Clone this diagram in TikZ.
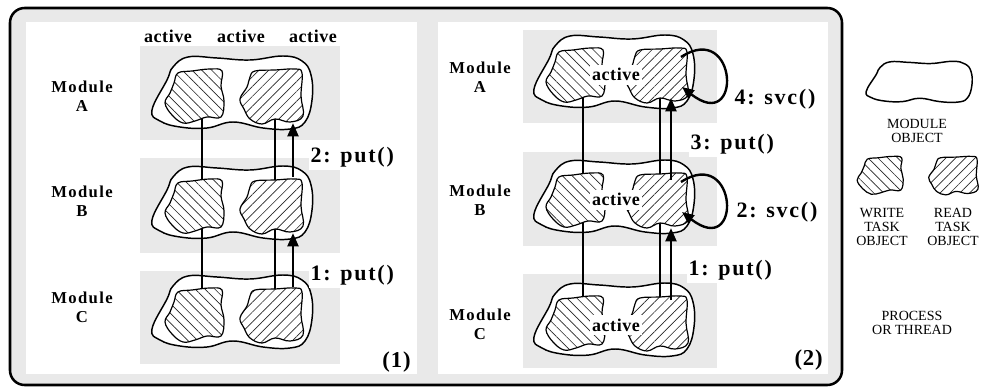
\documentclass[tikz,border=0pt]{standalone}
\usepackage{fontspec}
\setmainfont{Liberation Serif}
\usetikzlibrary{arrows.meta,patterns.meta,calc}

\definecolor{bandgray}{RGB}{233,233,233}

\tikzset{
  frame/.style={draw=black,line width=1.9pt,rounded corners=11pt,fill=bandgray},
  band/.style={fill=bandgray,draw=none},
  modline/.style={draw=black,line width=1.1pt,fill=white},
  wtask/.style={draw=black,line width=0.9pt,preaction={fill=white},
    pattern={Lines[angle=-45,distance=5.2pt,line width=0.5pt]},pattern color=black!85},
  rtask/.style={draw=black,line width=0.9pt,preaction={fill=white},
    pattern={Lines[angle=45,distance=5.2pt,line width=0.5pt]},pattern color=black!85},
  conn/.style={draw=black,line width=0.9pt},
  putarrow/.style={draw=black,line width=2.2pt,-{Triangle[length=10pt,width=8pt]}},
  svcarrow/.style={draw=black,line width=1.8pt,-{Triangle[length=9pt,width=7.5pt]}},
  calllbl/.style={font=\fontsize{16.5}{18}\selectfont\bfseries\addfontfeature{LetterSpace=8},
    fill=white,inner xsep=1pt,inner ysep=1.5pt},
  tag/.style={font=\fontsize{17}{18}\selectfont\bfseries\addfontfeature{LetterSpace=4},inner sep=0pt},
  actlbl/.style={font=\fontsize{13.5}{14}\selectfont\bfseries\addfontfeature{LetterSpace=3},inner sep=0pt},
  actbox/.style={actlbl,fill=white,inner xsep=1.5pt,inner ysep=3pt},
  modlbl/.style={font=\fontsize{12.5}{14}\selectfont\bfseries\addfontfeature{LetterSpace=8},
    align=center,inner sep=0pt},
  legend/.style={font=\fontsize{10.5}{10.5}\selectfont,align=center,inner sep=0pt},
  % module object: wavy outline
  modobj/.pic={
    \path[modline] plot[smooth cycle,tension=0.7] coordinates {
      (-59,-26) (-65,-13) (-80,17) (-72,28) (-52,34) (-25,35) (1,29) (31,35)
      (58,36) (73,29) (80,7) (79,-18) (70,-32) (51,-37) (18,-33) (-15,-35) (-44,-36)};
  },
  % write task object, anchored at its connector
  wtaskobj/.pic={
    \path[wtask] plot[smooth cycle,tension=0.65] coordinates {
      (-24,-24) (-10,-26) (8,-28) (20,-26) (19,-11) (22,4) (19,20) (5,20)
      (-7,24) (-19,26) (-30,18) (-37,6) (-32,-4) (-28,-14)};
  },
  % read task object, anchored at its connector
  rtaskobj/.pic={
    \path[rtask] plot[smooth cycle,tension=0.65] coordinates {
      (-20,-26) (0,-27) (20,-28) (27,-24) (26,-1) (28,19) (15,25) (0,22)
      (-13,27) (-25,22) (-31,12) (-35,2) (-28,-10) (-25,-20)};
  }
}

\begin{document}
\begin{tikzpicture}[x=0.75pt,y=-0.75pt]
\useasboundingbox (0,0) rectangle (981,388);

% outer frame and the two white panels
\path[frame] (10,8) rectangle (842,385);
\fill[white] (26,22) rectangle (417,374);
\fill[white] (438,22) rectangle (828,374);

% process / thread bands
\fill[band] (140,46) rectangle (340,140);
\fill[band] (140,158) rectangle (340,253);
\fill[band] (140,271) rectangle (340,364);
\fill[band] (523,30) rectangle (717,123);
\fill[band] (523,152) rectangle (717,246);
\fill[band] (523,274) rectangle (717,368);

% ---------- panel (1) ----------
\coordinate (p1A) at (232,93);
\coordinate (p1B) at (232,203);
\coordinate (p1C) at (232,312);
\coordinate (p1Aw) at (202,97);
\coordinate (p1Ar) at (275,97);
\coordinate (p1Bw) at (202,207);
\coordinate (p1Br) at (275,207);
\coordinate (p1Cw) at (202,316);
\coordinate (p1Cr) at (275,316);

\pic at (p1A) {modobj};
\pic at (p1B) {modobj};
\pic at (p1C) {modobj};

\draw[conn] (p1Aw) -- (p1Cw);
\draw[conn] (p1Ar) -- (p1Cr);

\pic at (p1Aw) {wtaskobj};
\pic at (p1Ar) {rtaskobj};
\pic at (p1Bw) {wtaskobj};
\pic at (p1Br) {rtaskobj};
\pic at (p1Cw) {wtaskobj};
\pic at (p1Cr) {rtaskobj};

\draw[putarrow] ($(p1Br)+(18,-30)$) -- ($(p1Ar)+(18,26)$);
\draw[putarrow] ($(p1Cr)+(18,-29)$) -- ($(p1Br)+(18,26)$);

\node[actlbl,anchor=base] (act1) at (168,43) {active};
\node[actlbl,anchor=base] (act2) at (241,43) {active};
\node[actlbl,anchor=base] (act3) at (313,43) {active};

\node[modlbl] (m1A) at (82,96) {Module\\A};
\node[modlbl] (m1B) at (82,201) {Module\\B};
\node[modlbl] (m1C) at (82,307) {Module\\C};

\node[calllbl,anchor=base west] (put1b) at (309,163) {2: put()};
\node[calllbl,anchor=base west] (put1a) at (309,281) {1: put()};
\node[tag,anchor=base east] (tag1) at (411,367) {(1)};

% ---------- panel (2) ----------
\coordinate (p2A) at (614,72);
\coordinate (p2B) at (614,197);
\coordinate (p2C) at (614,320);
\coordinate (p2Aw) at (583,76);
\coordinate (p2Ar) at (660,76);
\coordinate (p2Bw) at (583,201);
\coordinate (p2Br) at (660,201);
\coordinate (p2Cw) at (583,324);
\coordinate (p2Cr) at (660,324);

\pic at (p2A) {modobj};
\pic at (p2B) {modobj};
\pic at (p2C) {modobj};

\draw[conn] (p2Aw) -- (p2Cw);
\draw[conn] (p2Ar) -- (p2Cr);

\pic at (p2Aw) {wtaskobj};
\pic at (p2Ar) {rtaskobj};
\pic at (p2Bw) {wtaskobj};
\pic at (p2Br) {rtaskobj};
\pic at (p2Cw) {wtaskobj};
\pic at (p2Cr) {rtaskobj};

\node[actbox,anchor=base] (act2A) at (616,81) {active};
\node[actbox,anchor=base] (act2B) at (616,206) {active};
\node[actbox,anchor=base] (act2C) at (616,331) {active};

\draw[putarrow] ($(p2Br)+(11,-21)$) -- ($(p2Ar)+(11,22)$);
\draw[putarrow] ($(p2Cr)+(11,-24)$) -- ($(p2Br)+(11,27)$);

\draw[svcarrow] ($(p2Ar)+(21,-19)$) .. controls +(57,-37) and +(61,48) .. ($(p2Ar)+(22,11)$);
\draw[svcarrow] ($(p2Br)+(21,-19)$) .. controls +(57,-37) and +(61,48) .. ($(p2Br)+(22,11)$);

\node[modlbl] (m2A) at (480,77) {Module\\A};
\node[modlbl] (m2B) at (480,200) {Module\\B};
\node[modlbl] (m2C) at (480,324) {Module\\C};

\node[calllbl,anchor=base west] (svc2b) at (733,105) {4: svc()};
\node[calllbl,anchor=base west] (put2b) at (689,150) {3: put()};
\node[calllbl,anchor=base west] (svc2a) at (735,218) {2: svc()};
\node[calllbl,anchor=base west] (put2a) at (687,276) {1: put()};
\node[tag,anchor=base east] (tag2) at (823,365) {(2)};

% ---------- legend ----------
\pic[xscale=0.66,yscale=0.56] at (919,82) {modobj};
\node[legend] (lgmod) at (917,131) {MODULE\\OBJECT};
\pic[xscale=0.78,yscale=0.7] at (886,176) {wtaskobj};
\pic[xscale=0.78,yscale=0.7] at (956,176) {rtaskobj};
\node[legend] (lgw) at (882,227) {WRITE\\TASK\\OBJECT};
\node[legend] (lgr) at (953,227) {READ\\TASK\\OBJECT};
\node[legend] (lgp) at (912,323) {PROCESS\\OR THREAD};
\end{tikzpicture}
\end{document}
